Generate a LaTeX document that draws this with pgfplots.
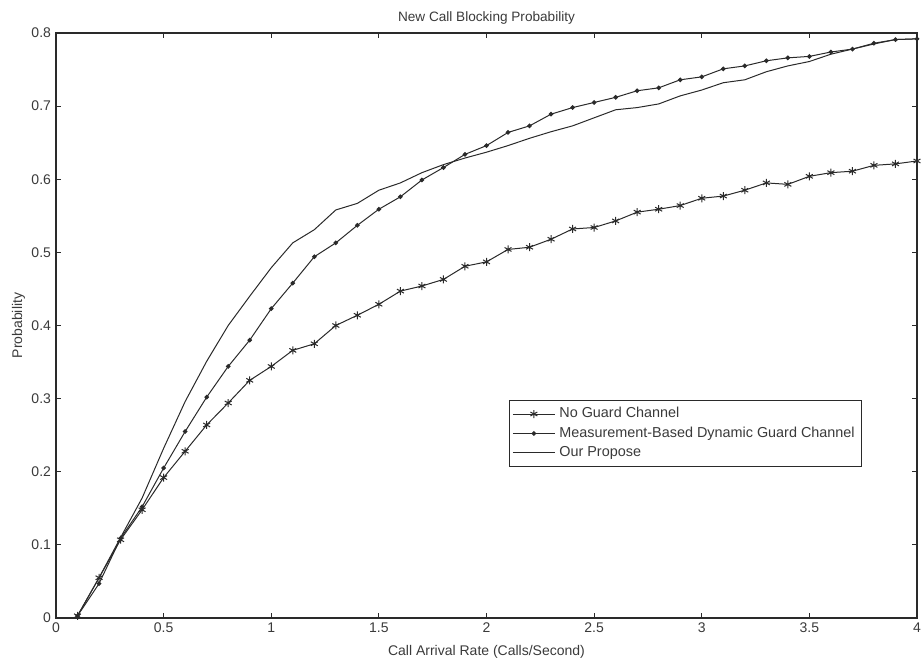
\documentclass[border=0pt]{standalone}
\usepackage{fontspec}
\setmainfont{Liberation Sans}
\usepackage{pgfplots}
\pgfplotsset{compat=1.18}
\definecolor{txt}{HTML}{3A3A3A}
\definecolor{ln}{HTML}{2A2A2A}
\begin{document}
\begin{tikzpicture}
\begin{axis}[
  scale only axis,
  width=430.5pt, height=292.5pt,
  xmin=0, xmax=4, ymin=0, ymax=0.8,
  xtick={0,0.5,...,4}, ytick={0,0.1,...,0.8},
  /pgf/number format/assume math mode=true,
  /pgf/number format/fixed,
  tick align=inside, major tick length=2.5pt,
  tick style={ln, line width=0.5pt},
  axis line style={ln, line width=0.6pt},
  font=\fontsize{7pt}{8pt}\selectfont,
  tick label style={txt, font=\fontsize{7pt}{8pt}\selectfont},
  xticklabel style={yshift=1pt},
  yticklabel style={xshift=1pt},
  every axis title shift=0pt,
  title={New Call Blocking Probability},
  title style={txt, at={(0.5,1)}, anchor=south, yshift=1pt, font=\fontsize{6.8pt}{8pt}\selectfont},
  xlabel={Call Arrival Rate (Calls/Second)},
  ylabel={Probability},
  xlabel style={txt, at={(0.5,0)}, anchor=north, yshift=-10pt, font=\fontsize{7pt}{8pt}\selectfont},
  ylabel style={txt, at={(0,0.5)}, anchor=south, xshift=0pt, yshift=12pt, font=\fontsize{7pt}{8pt}\selectfont},
  legend style={at={(0.526,0.373)}, anchor=north west, draw=ln, line width=0.5pt,
    font=\fontsize{7.2pt}{8pt}\selectfont, text=txt, inner sep=1.5pt, row sep=-1pt, fill=white},
  legend cell align=left,
  legend image code/.code={\draw[#1] (0pt,0pt) -- (21pt,0pt); \draw[#1, only marks] plot coordinates {(10.5pt,0pt)};},
]
\addplot[ln, line width=0.5pt, mark=asterisk, mark size=2pt, mark options={line width=0.5pt}] coordinates {
(0.1,0.003)(0.2,0.055)(0.3,0.107)(0.4,0.148)(0.5,0.192)(0.6,0.228)(0.7,0.264)(0.8,0.294)(0.9,0.325)(1.0,0.344)
(1.1,0.366)(1.2,0.375)(1.3,0.400)(1.4,0.414)(1.5,0.429)(1.6,0.447)(1.7,0.454)(1.8,0.463)(1.9,0.481)(2.0,0.487)
(2.1,0.504)(2.2,0.507)(2.3,0.518)(2.4,0.532)(2.5,0.534)(2.6,0.543)(2.7,0.555)(2.8,0.559)(2.9,0.564)(3.0,0.574)
(3.1,0.577)(3.2,0.585)(3.3,0.595)(3.4,0.593)(3.5,0.604)(3.6,0.609)(3.7,0.611)(3.8,0.619)(3.9,0.621)(4.0,0.625)
};
\addlegendentry{No Guard Channel}
\addplot[ln, line width=0.5pt, mark=*, mark size=0.9pt] coordinates {
(0.1,0.003)(0.2,0.047)(0.3,0.109)(0.4,0.152)(0.5,0.205)(0.6,0.255)(0.7,0.302)(0.8,0.344)(0.9,0.380)(1.0,0.423)
(1.1,0.458)(1.2,0.494)(1.3,0.513)(1.4,0.537)(1.5,0.559)(1.6,0.576)(1.7,0.599)(1.8,0.616)(1.9,0.634)(2.0,0.646)
(2.1,0.664)(2.2,0.673)(2.3,0.689)(2.4,0.698)(2.5,0.705)(2.6,0.712)(2.7,0.721)(2.8,0.725)(2.9,0.736)(3.0,0.740)
(3.1,0.751)(3.2,0.755)(3.3,0.762)(3.4,0.766)(3.5,0.768)(3.6,0.774)(3.7,0.778)(3.8,0.786)(3.9,0.791)(4.0,0.792)
};
\addlegendentry{Measurement-Based Dynamic Guard Channel}
\addplot[ln, line width=0.5pt, mark=none] coordinates {
(0.1,0.003)(0.2,0.055)(0.3,0.110)(0.4,0.164)(0.5,0.232)(0.6,0.296)(0.7,0.351)(0.8,0.400)(0.9,0.440)(1.0,0.479)
(1.1,0.513)(1.2,0.531)(1.3,0.558)(1.4,0.567)(1.5,0.585)(1.6,0.595)(1.7,0.609)(1.8,0.620)(1.9,0.629)(2.0,0.637)
(2.1,0.646)(2.2,0.656)(2.3,0.665)(2.4,0.673)(2.5,0.684)(2.6,0.695)(2.7,0.698)(2.8,0.703)(2.9,0.714)(3.0,0.722)
(3.1,0.732)(3.2,0.736)(3.3,0.747)(3.4,0.755)(3.5,0.761)(3.6,0.771)(3.7,0.778)(3.8,0.785)(3.9,0.791)(4.0,0.792)
};
\addlegendentry{Our Propose}
\end{axis}
\pgfresetboundingbox
\path ([xshift=-28pt,yshift=-21.5pt]current axis.south west) rectangle ([xshift=2pt,yshift=16.5pt]current axis.north east);
\end{tikzpicture}
\end{document}
